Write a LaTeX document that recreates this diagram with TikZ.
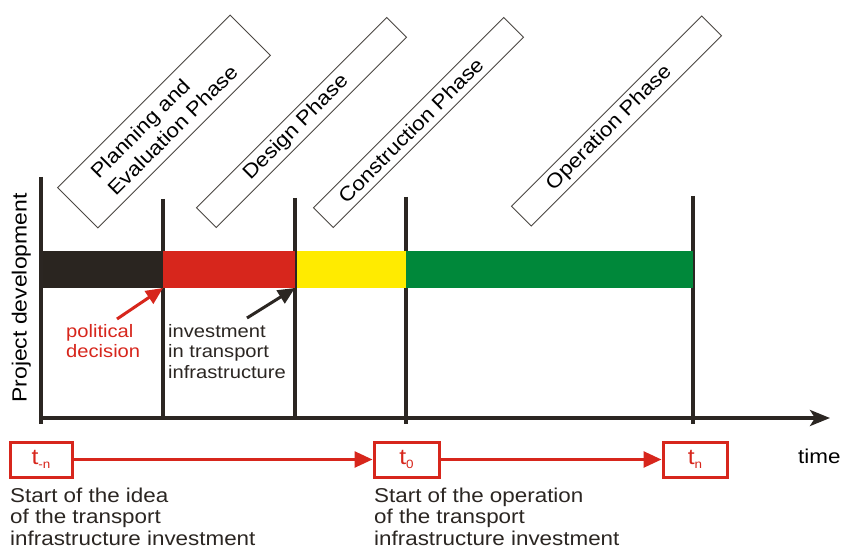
\documentclass[tikz,border=0pt]{standalone}
\usepackage{fontspec}
\setmainfont{Liberation Sans}[FakeStretch=1.12]
\usetikzlibrary{arrows.meta}
\definecolor{ink}{HTML}{2B2622}
\definecolor{pred}{HTML}{D7261C}
\definecolor{pyellow}{HTML}{FFEB00}
\definecolor{pgreen}{HTML}{00883A}
\definecolor{pblack}{HTML}{2A2520}
\newcommand\tsub[1]{t\raisebox{-0.35ex}{\fontsize{12}{12}\selectfont #1}}
\begin{document}
\begin{tikzpicture}[x=1pt,y=-1pt,
  phase/.style={draw=ink!85, line width=0.9pt, rotate=45, minimum height=28pt,
    minimum width=269pt, inner sep=2pt, font=\fontsize{20}{24}\selectfont},
  barseg/.style={anchor=north west, inner sep=0pt, outer sep=0pt, minimum height=37pt},
  divider/.style={ink, line width=3.2pt},
  axis/.style={ink, line width=3.6pt},
  pointer/.style={line width=3pt, -{Triangle[length=17pt,width=15pt]}},
  tbox/.style={draw=pred, line width=3pt, text=pred, minimum height=35pt,
    inner sep=0pt, font=\fontsize{22}{22}\selectfont},
  tarrow/.style={pred, line width=2.6pt, -{Triangle[length=18pt,width=16pt]}},
  caption/.style={anchor=north west, inner sep=0pt, align=left,
    font=\fontsize{20}{21.5}\selectfont},
  note/.style={anchor=north west, inner sep=0pt, align=left,
    font=\fontsize{18}{20.7}\selectfont},
]
\useasboundingbox[fill=white] (0,0) rectangle (843,548);

% phase vertical separators
\draw[divider] (163,199) -- (163,418);
\draw[divider] (295,198) -- (295,418);
\draw[divider] (406,197) -- (406,424);
\draw[divider] (693,196) -- (693,424);

% project development bar
\node[barseg, fill=pblack, minimum width=122pt] (blackbar) at (41,251) {};
\node[barseg, fill=pred, minimum width=132pt] (redbar) at (163,251) {};
\node[barseg, fill=pyellow, minimum width=109pt] (yellowbar) at (297,251) {};
\node[barseg, fill=pgreen, minimum width=287pt] (greenbar) at (406,251) {};

% axes
\draw[axis] (41,177) -- (41,424);
\draw[axis, -{Stealth[length=20pt,width=16pt,inset=5pt]}] (39.5,418) -- (830,418);
\node[rotate=90, anchor=base, inner sep=0pt, font=\fontsize{20.5}{22}\selectfont]
  (ylabel) at (26.5,298) {Project development};
\node[anchor=base west, inner sep=0pt, font=\fontsize{20}{22}\selectfont]
  (timelbl) at (798,463) {time};

% phase labels (text set slightly off-centre along each box)
\node[phase, minimum width=244pt, minimum height=57pt, align=left] (plan)
  at (164,121.5) {Planning and\\Evaluation Phase};
\node[phase] (design) at (301.5,122.5) {\hspace*{-15pt}Design Phase};
\node[phase] (constr) at (418.5,122.5) {\hspace*{-22pt}Construction Phase};
\node[phase] (oper) at (616.5,121) {\hspace*{-20pt}Operation Phase};

% decision notes
\node[note, text=pred] (poldec) at (66,324) {political\\decision};
\node[note, text=ink] (invest) at (168,324) {investment\\in transport\\infrastructure};
\coordinate (poltail) at (117,319);
\coordinate (invtail) at (247,318);
\draw[pointer, pred] (poltail) -- (redbar.south west);
\draw[pointer, ink] (invtail) -- (redbar.south east);

% time markers
\node[tbox, minimum width=62pt] (tm) at (41,459.5) {\tsub{-n}};
\node[tbox, minimum width=65pt] (tz) at (406.5,459.5) {\tsub{0}};
\node[tbox, minimum width=64pt] (tn) at (695,459.5) {\tsub{n}};
\draw[tarrow] (tm) -- (tz);
\draw[tarrow] (tz) -- (tn);

\node[caption, text=ink] (capm) at (10,487.5)
  {Start of the idea\\of the transport\\infrastructure investment};
\node[caption, text=ink] (capz) at (374,487.5)
  {Start of the operation\\of the transport\\infrastructure investment};
\end{tikzpicture}
\end{document}
